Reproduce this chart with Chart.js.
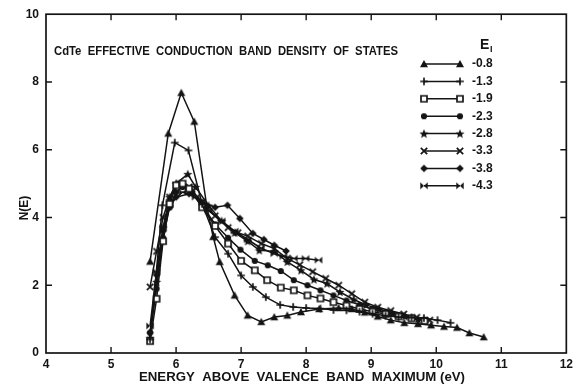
<!DOCTYPE html>
<html>
<head>
<meta charset="utf-8">
<script src="https://cdn.jsdelivr.net/npm/chart.js@4.4.1/dist/chart.umd.min.js"></script>
<style>
  html, body { margin: 0; background: #fff; }
  #wrap { width: 577px; height: 386px; }
</style>
</head>
<body>
<div id="wrap"><canvas id="myChart"></canvas></div>
<script>
// energy above valence band maximum (eV) and N(E), one pair per E_I curve
const e08 = [5.6, 5.88, 6.08, 6.28, 6.47, 6.57, 6.67, 6.9, 7.1, 7.31, 7.51, 7.71, 7.92, 8.2, 8.5, 8.7, 8.9, 9.1, 9.3, 9.51, 9.72, 9.92, 10.12, 10.32, 10.51, 10.73];
const n08 = [2.7, 6.48, 7.68, 6.83, 4.36, 3.43, 2.69, 1.7, 1.11, 0.92, 1.06, 1.11, 1.21, 1.3, 1.33, 1.3, 1.2, 1.08, 0.97, 0.89, 0.86, 0.82, 0.78, 0.75, 0.59, 0.47];

const e13 = [5.6, 5.79, 5.98, 6.19, 6.4, 6.6, 6.8, 7.0, 7.18, 7.38, 7.6, 7.8, 8.0, 8.22, 8.42, 8.62, 8.82, 9.02, 9.22, 9.42, 9.62, 9.81, 10.02, 10.22];
const n13 = [0.4, 4.36, 6.21, 5.98, 4.4, 3.42, 2.93, 2.29, 1.95, 1.65, 1.42, 1.36, 1.33, 1.31, 1.27, 1.26, 1.22, 1.16, 1.1, 1.06, 1.05, 1.03, 0.97, 0.89];

const e19 = [5.6, 5.7, 5.8, 5.9, 6.0, 6.1, 6.2, 6.4, 6.6, 6.8, 7.0, 7.21, 7.4, 7.61, 7.81, 8.02, 8.22, 8.42, 8.62, 8.82, 9.02, 9.22, 9.42, 9.62, 9.82];
const n19 = [0.35, 1.6, 3.3, 4.4, 4.95, 5.0, 4.85, 4.3, 3.75, 3.23, 2.72, 2.44, 2.15, 1.93, 1.85, 1.7, 1.61, 1.5, 1.4, 1.3, 1.22, 1.15, 1.08, 1.02, 0.95];

const e23 = [5.6, 5.7, 5.8, 5.9, 6.0, 6.1, 6.25, 6.4, 6.6, 6.8, 6.99, 7.21, 7.41, 7.61, 7.81, 8.02, 8.22, 8.42, 8.62, 8.82, 9.02, 9.22, 9.42, 9.62, 9.82];
const n23 = [0.6, 1.9, 3.4, 4.3, 4.75, 4.9, 4.75, 4.35, 3.8, 3.4, 3.05, 2.72, 2.59, 2.42, 2.15, 2.0, 1.85, 1.7, 1.55, 1.42, 1.3, 1.2, 1.12, 1.05, 0.98];

const e28 = [5.6, 5.7, 5.8, 5.9, 6.0, 6.18, 6.3, 6.5, 6.7, 6.9, 7.1, 7.28, 7.51, 7.71, 7.92, 8.12, 8.32, 8.52, 8.73, 8.92, 9.12, 9.32, 9.52, 9.72];
const n28 = [0.45, 2.1, 3.7, 4.6, 5.0, 5.28, 4.9, 4.35, 3.9, 3.55, 3.3, 3.03, 3.0, 2.69, 2.44, 2.17, 2.05, 1.8, 1.58, 1.42, 1.3, 1.18, 1.08, 1.0];

const e33 = [5.6, 5.7, 5.8, 5.9, 6.05, 6.2, 6.4, 6.6, 6.8, 6.95, 7.1, 7.31, 7.51, 7.71, 7.9, 8.1, 8.3, 8.5, 8.7, 8.9, 9.1, 9.3, 9.5, 9.7, 9.9];
const n33 = [1.95, 3.0, 4.0, 4.6, 5.0, 4.9, 4.45, 4.05, 3.7, 3.55, 3.45, 3.23, 3.08, 2.79, 2.6, 2.4, 2.2, 2.0, 1.75, 1.5, 1.35, 1.25, 1.15, 1.05, 0.97];

const e38 = [5.6, 5.7, 5.8, 5.9, 6.0, 6.2, 6.4, 6.6, 6.79, 6.98, 7.18, 7.35, 7.51, 7.69];
const n38 = [0.6, 2.3, 3.6, 4.3, 4.6, 4.7, 4.45, 4.3, 4.36, 3.97, 3.53, 3.35, 3.18, 3.01];

const e43 = [5.6, 5.7, 5.8, 5.9, 6.1, 6.3, 6.5, 6.7, 6.9, 7.1, 7.3, 7.51, 7.65, 7.81, 7.99, 8.19];
const n43 = [0.8, 2.4, 3.7, 4.4, 4.75, 4.6, 4.2, 3.9, 3.6, 3.35, 3.1, 2.93, 2.85, 2.79, 2.79, 2.74];

const seriesLabels = ["-0.8", "-1.3", "-1.9", "-2.3", "-2.8", "-3.3", "-3.8", "-4.3"];
const markerKinds = ["triangle", "plus", "square", "circle", "star", "cross", "diamond", "bowtie"];
const xTicks = [4, 5, 6, 7, 8, 9, 10, 11, 12];
const yTicks = [0, 2, 4, 6, 8, 10];

const titleText = "CdTe  EFFECTIVE  CONDUCTION  BAND  DENSITY  OF  STATES";
const xTitle = "ENERGY  ABOVE  VALENCE  BAND  MAXIMUM (eV)";
const yTitle = "N(E)";

const INK = "#141414";
const FONT = '"Liberation Sans", Arial, sans-serif';

// small canvases used as point styles (filled star / bowtie aren't built in)
function makeMarker(kind) {
  const c = document.createElement("canvas");
  c.width = 10; c.height = 10;
  const g = c.getContext("2d");
  g.fillStyle = INK; g.strokeStyle = INK; g.lineWidth = 1.7;
  const m = 5;
  g.beginPath();
  if (kind === "triangle") {
    g.moveTo(m, 1); g.lineTo(9, 8.3); g.lineTo(1, 8.3); g.closePath(); g.fill();
  } else if (kind === "plus") {
    g.moveTo(m, 1.2); g.lineTo(m, 8.8); g.moveTo(1.2, m); g.lineTo(8.8, m); g.stroke();
  } else if (kind === "square") {
    g.rect(2, 2, 6, 6); g.fillStyle = "#fff"; g.fill(); g.stroke();
  } else if (kind === "circle") {
    g.arc(m, m, 3.1, 0, Math.PI * 2); g.fill();
  } else if (kind === "star") {
    for (let i = 0; i < 10; i++) {
      const r = i % 2 === 0 ? 4.8 : 2.1;
      const a = -Math.PI / 2 + i * Math.PI / 5;
      const px = m + r * Math.cos(a), py = m + 0.4 + r * Math.sin(a);
      if (i === 0) g.moveTo(px, py); else g.lineTo(px, py);
    }
    g.closePath(); g.fill();
  } else if (kind === "cross") {
    g.moveTo(1.8, 1.8); g.lineTo(8.2, 8.2); g.moveTo(8.2, 1.8); g.lineTo(1.8, 8.2); g.stroke();
  } else if (kind === "diamond") {
    g.moveTo(m, 1.2); g.lineTo(8.8, m); g.lineTo(m, 8.8); g.lineTo(1.2, m); g.closePath(); g.fill();
  } else if (kind === "bowtie") {
    g.moveTo(1.3, 1.6); g.lineTo(m, m); g.lineTo(1.3, 8.4); g.closePath();
    g.moveTo(8.7, 1.6); g.lineTo(m, m); g.lineTo(8.7, 8.4); g.closePath(); g.fill();
  }
  return c;
}

const markers = markerKinds.map(makeMarker);
const energies = [e08, e13, e19, e23, e28, e33, e38, e43];
const values = [n08, n13, n19, n23, n28, n33, n38, n43];

const datasets = seriesLabels.map((label, i) => ({
  label: label,
  data: energies[i].map((e, j) => ({ x: e, y: values[i][j] })),
  borderColor: INK,
  borderWidth: 1.5,
  pointStyle: markers[i],
  pointRadius: 4,
  showLine: true,
  tension: 0,
}));

// frame, inward ticks on all four sides, titles and the hand-made legend
const decorations = {
  id: "decorations",
  afterDraw(chart) {
    const ctx = chart.ctx;
    const a = chart.chartArea;
    const xs = chart.scales.x, ys = chart.scales.y;
    ctx.save();
    ctx.strokeStyle = INK;
    ctx.fillStyle = INK;
    ctx.lineWidth = 1.7;
    ctx.strokeRect(a.left, a.top, a.right - a.left, a.bottom - a.top);
    ctx.lineWidth = 1.4;
    ctx.beginPath();
    xTicks.slice(1, -1).forEach(t => {
      const px = xs.getPixelForValue(t);
      ctx.moveTo(px, a.bottom); ctx.lineTo(px, a.bottom - 6);
      ctx.moveTo(px, a.top); ctx.lineTo(px, a.top + 6);
    });
    yTicks.slice(1, -1).forEach(t => {
      const py = ys.getPixelForValue(t);
      ctx.moveTo(a.left, py); ctx.lineTo(a.left + 6, py);
      ctx.moveTo(a.right, py); ctx.lineTo(a.right - 6, py);
    });
    ctx.stroke();

    const fitText = (txt, x, y, w) => {
      const mw = ctx.measureText(txt).width;
      ctx.save();
      ctx.translate(x, y);
      ctx.scale(w / mw, 1);
      ctx.fillText(txt, 0, 0);
      ctx.restore();
    };
    ctx.textBaseline = "middle";
    ctx.textAlign = "left";
    ctx.font = "bold 12px " + FONT;
    fitText(titleText, 54, 52, 344);
    fitText(xTitle, 139, 378, 326);

    ctx.save();
    ctx.translate(25, 208);
    ctx.rotate(-Math.PI / 2);
    ctx.textAlign = "center";
    ctx.font = "bold 12px " + FONT;
    ctx.fillText(yTitle, 0, 0);
    ctx.restore();

    // legend header E_I
    ctx.font = "bold 14px " + FONT;
    ctx.fillText("E", 480, 45);
    ctx.font = "bold 9px " + FONT;
    ctx.fillText("I", 490, 50);

    ctx.font = "bold 12px " + FONT;
    ctx.lineWidth = 1.5;
    seriesLabels.forEach((lab, i) => {
      const y = 64 + i * 17.4;
      ctx.beginPath();
      ctx.moveTo(424, y); ctx.lineTo(460, y);
      ctx.stroke();
      ctx.drawImage(markers[i], 424 - 5, y - 5);
      ctx.drawImage(markers[i], 460 - 5, y - 5);
      ctx.fillText(lab, 472, y);
    });
    ctx.restore();
  },
};

Chart.defaults.font.family = FONT;
Chart.defaults.color = INK;

new Chart(document.getElementById("myChart"), {
  type: "scatter",
  data: { datasets },
  options: {
    responsive: true,
    maintainAspectRatio: false,
    animation: false,
    layout: { padding: { left: 0, top: 14, right: 5, bottom: 0 } },
    plugins: {
      legend: { display: false },
      tooltip: { enabled: false },
    },
    scales: {
      x: {
        type: "linear",
        min: 4,
        max: 12,
        afterBuildTicks: (s) => { s.ticks = xTicks.map(v => ({ value: v })); },
        afterFit: (s) => { s.height = 33; },
        grid: { display: false, drawTicks: false },
        border: { display: false },
        ticks: { padding: 4, font: { size: 12, weight: "bold" }, color: INK },
      },
      y: {
        min: 0,
        max: 10,
        afterBuildTicks: (s) => { s.ticks = yTicks.map(v => ({ value: v })); },
        afterFit: (s) => { s.width = 46; },
        grid: { display: false, drawTicks: false },
        border: { display: false },
        ticks: { padding: 7, font: { size: 12, weight: "bold" }, color: INK },
      },
    },
  },
  plugins: [decorations],
});
</script>
</body>
</html>
